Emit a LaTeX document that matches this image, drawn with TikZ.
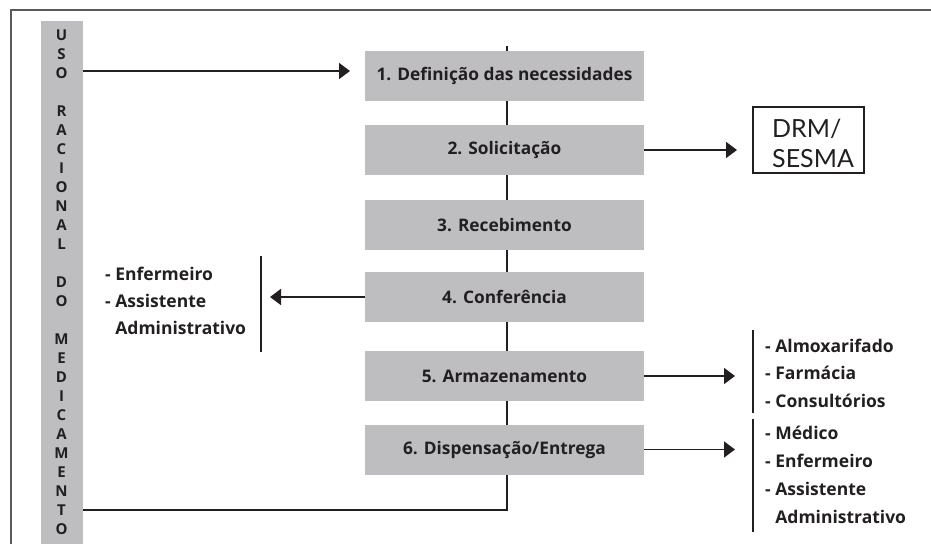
\documentclass[tikz,border=0pt]{standalone}
\usepackage{fontspec}
\setmainfont{Lato}
\newfontfamily\heavysans{Open Sans}
\usetikzlibrary{arrows.meta,backgrounds}
\definecolor{boxgray}{RGB}{190,190,192}
\definecolor{ink}{RGB}{35,31,32}
\definecolor{framegray}{RGB}{90,90,90}
\begin{document}
\begin{tikzpicture}[x=1pt,y=-1pt,
  stage/.style={fill=boxgray, minimum width=279pt, minimum height=50pt, inner sep=0pt,
    font=\heavysans\fontsize{17.3}{20}\selectfont\bfseries, text=ink},
  sidebar/.style={fill=boxgray, minimum width=42pt, minimum height=523pt, inner sep=0pt},
  conn/.style={line width=1.8pt, draw=ink},
  arr/.style={conn, -{Triangle[length=11pt,width=16pt]}},
  bracket/.style={line width=1.6pt, draw=ink},
  item/.style={anchor=base west, inner sep=0pt, font=\heavysans\fontsize{17.5}{20}\selectfont\bfseries, text=ink},
  drmtxt/.style={anchor=base west, inner sep=0pt, font=\fontsize{25}{30}\selectfont, text=ink}
]
\useasboundingbox (0,0) rectangle (931,544);
% frame
\draw[line width=2pt, framegray] (11,544) -- (11,10) -- (931,10);
% side bar
\node[sidebar] (bar) at (61.5,282.5) {};
\node[inner sep=0pt, align=center, text=ink, font=\heavysans\fontsize{15}{19}\selectfont\bfseries] (bartext) at (61.5,282)
  {U\\S\\O\\\mbox{}\\R\\A\\C\\I\\O\\N\\A\\L\\\mbox{}\\D\\O\\\mbox{}\\M\\E\\D\\I\\C\\A\\M\\E\\N\\T\\O};
% stages
\node[stage] (b1) at (504.5,76) {1. Definição das necessidades};
\node[stage] (b2) at (504.5,150) {2. Solicitação};
\node[stage] (b3) at (504.5,225) {3. Recebimento};
\node[stage] (b4) at (504.5,297) {4. Conferência};
\node[stage] (b5) at (504.5,376) {5. Armazenamento};
\node[stage] (b6) at (504.5,449.5) {6. Dispensação/Entrega};
% spine
\coordinate (sTop) at (507,46);
\coordinate (sBot) at (507,510);
\begin{pgfonlayer}{background}
\draw[conn] (sTop) -- (sBot) -- (sBot -| bar.east);
\end{pgfonlayer}
% arrow from bar to stage 1
\coordinate (a1) at (350,71);
\draw[arr] (a1 -| bar.east) -- (a1);
% DRM/SESMA
\node[draw=ink, line width=1.2pt, minimum width=111pt, minimum height=66pt, inner sep=0pt] (drm) at (808.5,140) {};
\node[drmtxt] (drmA) at (772,137) {DRM/};
\node[drmtxt] (drmB) at (772,167) {SESMA};
\coordinate (a2) at (737,150);
\draw[arr] (b2.east) -- (a2);
% left list (stage 4)
\coordinate (a4) at (270,297);
\draw[arr] (b4.west) -- (a4);
\coordinate (k1t) at (261,256);
\coordinate (k1b) at (261,352);
\draw[bracket] (k1t) -- (k1b);
\node[item] (l1) at (105,280) {- Enfermeiro};
\node[item] (l2) at (105,307) {- Assistente};
\node[item] (l3) at (105,334) {\phantom{- }Administrativo};
% right list (stage 5)
\coordinate (a5) at (735,376);
\draw[arr] (b5.east) -- (a5);
\coordinate (k2t) at (753,330);
\coordinate (k2b) at (753,413);
\draw[bracket] (k2t) -- (k2b);
\node[item] (r1) at (765,352) {- Almoxarifado};
\node[item] (r2) at (765,379) {- Farmácia};
\node[item] (r3) at (765,407) {- Consultórios};
% right list (stage 6)
\coordinate (a6) at (735,449.5);
\draw[arr] (b6.east) -- (a6);
\coordinate (k3t) at (753,419);
\coordinate (k3b) at (753,532);
\draw[bracket] (k3t) -- (k3b);
\node[item] (s1) at (765,439) {- Médico};
\node[item] (s2) at (765,467) {- Enfermeiro};
\node[item] (s3) at (765,495) {- Assistente};
\node[item] (s4) at (765,523) {\phantom{- }Administrativo};
\end{tikzpicture}
\end{document}
